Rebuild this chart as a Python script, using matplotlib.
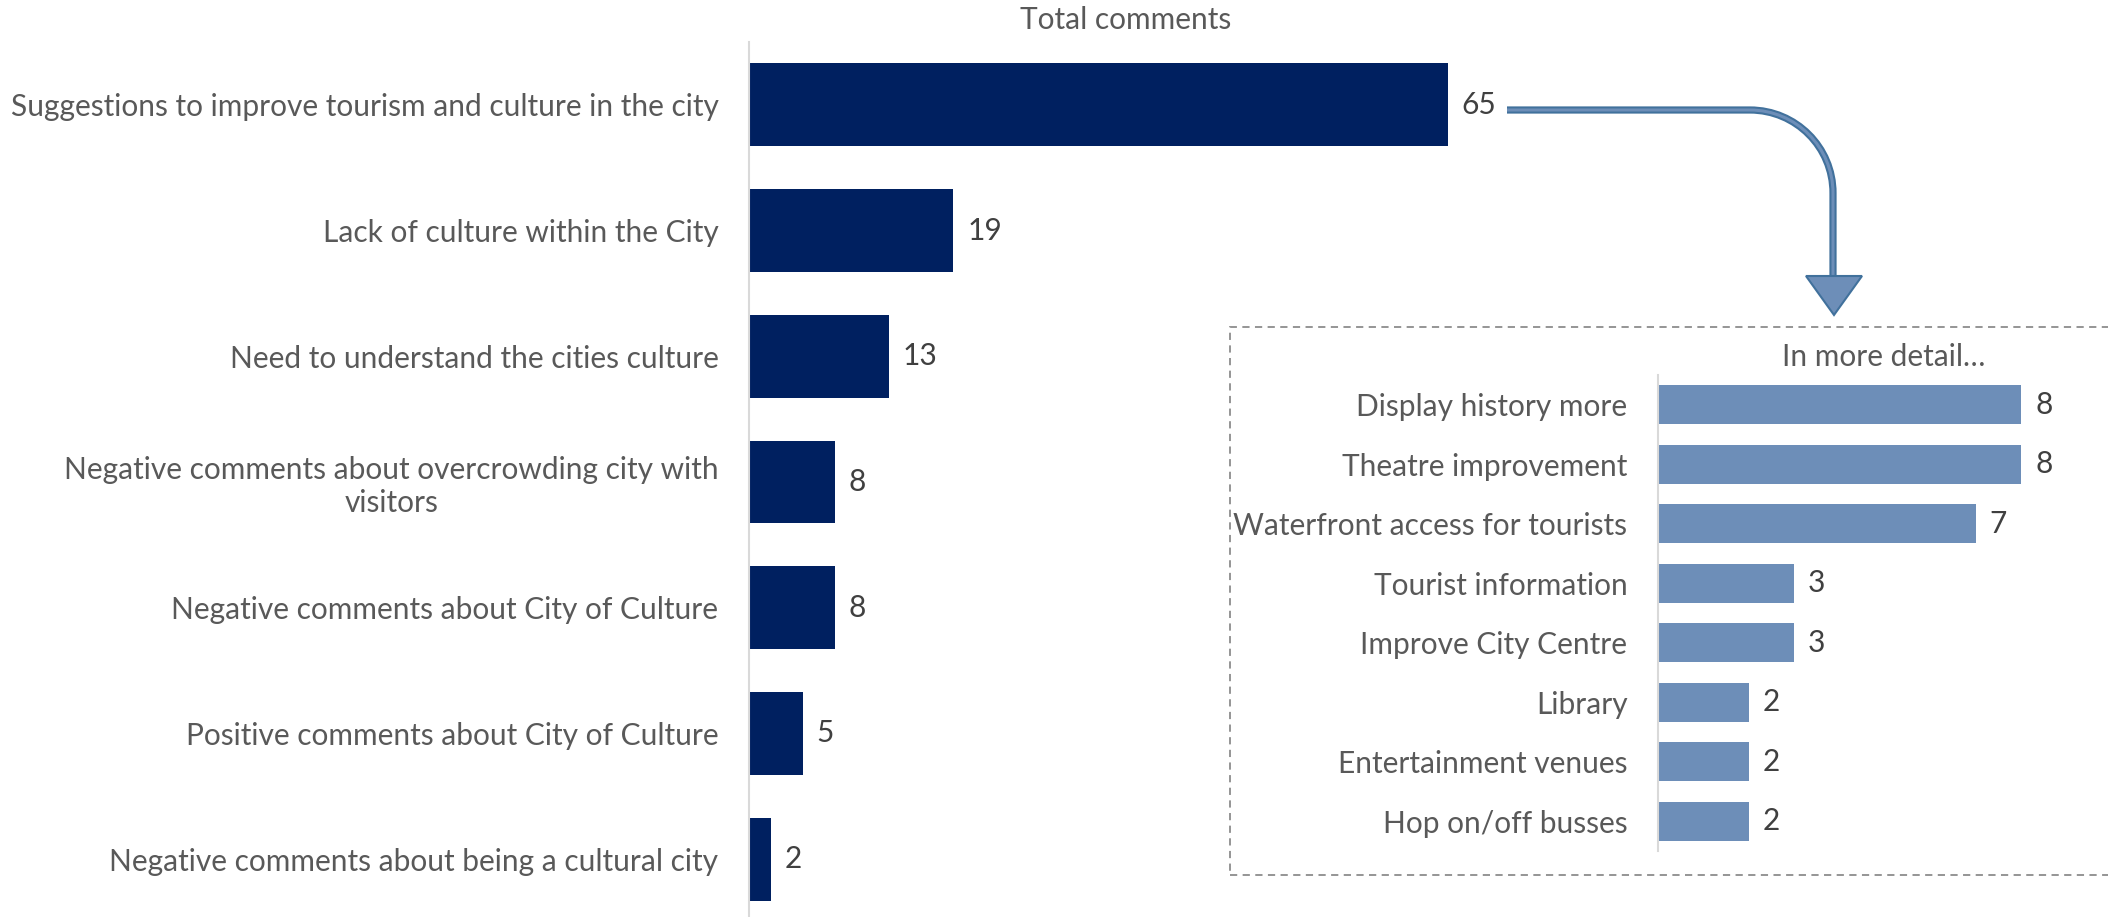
import matplotlib
matplotlib.use("Agg")
import matplotlib.pyplot as plt
from matplotlib.path import Path
from matplotlib.patches import PathPatch, Polygon, Rectangle

plt.rcParams['font.family'] = ['Lato', 'DejaVu Sans']

main_categories = [
    "Suggestions to improve tourism and culture in the city",
    "Lack of culture within the City",
    "Need to understand the cities culture",
    "Negative comments about overcrowding city with\nvisitors",
    "Negative comments about City of Culture",
    "Positive comments about City of Culture",
    "Negative comments about being a cultural city",
]
main_values = [65, 19, 13, 8, 8, 5, 2]

detail_categories = [
    "Display history more",
    "Theatre improvement",
    "Waterfront access for tourists",
    "Tourist information",
    "Improve City Centre",
    "Library",
    "Entertainment venues",
    "Hop on/off busses",
]
detail_values = [8, 8, 7, 3, 3, 2, 2, 2]

W, H = 2108, 917
fig = plt.figure(figsize=(W / 100, H / 100), dpi=100)

LABEL_COLOR = "#595959"
VALUE_COLOR = "#404040"
SPINE_COLOR = "#D9D9D9"
FS = 21.5
TFS = 21.5

def fx(px):
    return px / W

def fy(py):
    return 1 - py / H

# ---- main chart ----
ax = fig.add_axes([fx(749), fy(922), fx(967), (922 - 42) / H])
ax.patch.set_alpha(0)
ypos = list(range(len(main_categories)))
ax.barh(ypos, main_values, height=0.66, color="#002060")
ax.set_xlim(0, 967 / 10.75)
ax.set_ylim(6.5, -0.5)
ax.set_yticks(ypos)
ax.set_yticklabels(main_categories, fontsize=FS, color=LABEL_COLOR,
                   multialignment="center")
ax.tick_params(axis="y", length=0, pad=22)
ax.set_xticks([])
for s in ["top", "right", "bottom"]:
    ax.spines[s].set_visible(False)
ax.spines["left"].set_color(SPINE_COLOR)
ax.spines["left"].set_linewidth(1.5)
for y, v in zip(ypos, main_values):
    ax.annotate(str(v), (v, y), xytext=(10, 0), textcoords="offset points",
                ha="left", va="center", fontsize=FS, color=VALUE_COLOR)
fig.text(fx(1126), fy(20), "Total comments", ha="center", va="center",
         fontsize=TFS, color=LABEL_COLOR)

# ---- dashed box ----
fig.patches.append(Rectangle((fx(1230), fy(875)), fx(2110 - 1230), (875 - 327) / H,
                             transform=fig.transFigure, fill=False,
                             edgecolor="#8C8C8C", linestyle=(0, (4, 3)),
                             linewidth=1.3))

# ---- detail chart ----
ax2 = fig.add_axes([fx(1658), fy(851), fx(431), (851 - 375) / H])
ax2.patch.set_alpha(0)
ypos2 = list(range(len(detail_categories)))
ax2.barh(ypos2, detail_values, height=0.66, color="#6D8EB8")
ax2.set_xlim(0, 431 / 45.4)
ax2.set_ylim(7.5, -0.5)
ax2.set_yticks(ypos2)
ax2.set_yticklabels(detail_categories, fontsize=FS, color=LABEL_COLOR)
ax2.tick_params(axis="y", length=0, pad=22)
ax2.set_xticks([])
for s in ["top", "right", "bottom"]:
    ax2.spines[s].set_visible(False)
ax2.spines["left"].set_color(SPINE_COLOR)
ax2.spines["left"].set_linewidth(1.5)
for y, v in zip(ypos2, detail_values):
    ax2.annotate(str(v), (v, y), xytext=(10, 0), textcoords="offset points",
                 ha="left", va="center", fontsize=FS, color=VALUE_COLOR)
fig.text(fx(1884), fy(357), "In more detail\u2026", ha="center", va="center",
         fontsize=TFS, color=LABEL_COLOR)

# ---- curved arrow ----
k = 0.5523
r = 83
x0, y0 = 1507, 110
xa, xb = 1750, 1833
verts = [(x0, y0), (xa, y0),
         (xa + k * r, y0), (xb, y0 + r - k * r), (xb, y0 + r),
         (xb, 278)]
codes = [Path.MOVETO, Path.LINETO, Path.CURVE4, Path.CURVE4, Path.CURVE4, Path.LINETO]
fverts = [(fx(a), fy(b)) for a, b in verts]
path = Path(fverts, codes)
fig.patches.append(PathPatch(path, transform=fig.transFigure, fill=False,
                             edgecolor="#41719C", linewidth=5.2, capstyle="butt"))
fig.patches.append(PathPatch(path, transform=fig.transFigure, fill=False,
                             edgecolor="#6D8EB8", linewidth=2.2, capstyle="butt"))
head = [(1806, 276), (1862, 276), (1834, 315)]
fig.patches.append(Polygon([(fx(a), fy(b)) for a, b in head], closed=True,
                           transform=fig.transFigure, facecolor="#6D8EB8",
                           edgecolor="#41719C", linewidth=1.5))

fig.savefig("out.png", dpi=100)
